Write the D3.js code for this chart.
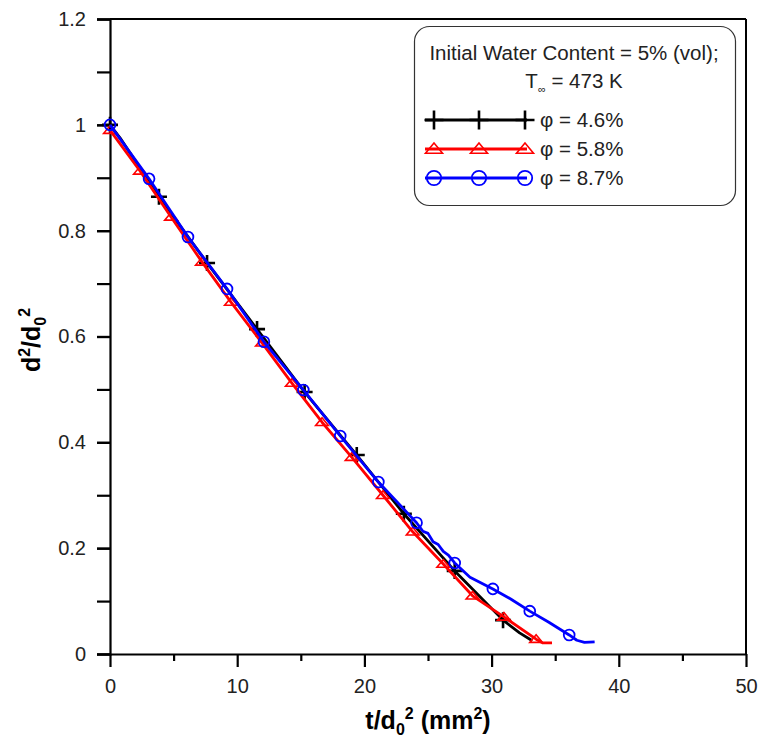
<!DOCTYPE html>
<html><head><meta charset="utf-8">
<script src="https://cdn.jsdelivr.net/npm/d3@7"></script>
<style>body{margin:0;background:#fff}svg{display:block}text{font-family:"Liberation Sans",Arial,sans-serif}</style>
</head><body><svg id="c" width="761" height="745"></svg>
<script>
// ---- data ----
const xTicks = [0, 10, 20, 30, 40, 50];
const yTickLabels = ["0", "0.2", "0.4", "0.6", "0.8", "1", "1.2"];
const yTicks = [0, 0.2, 0.4, 0.6, 0.8, 1.0, 1.2];
const seriesNames = ["φ = 4.6%", "φ = 5.8%", "φ = 8.7%"];
const seriesColors = ["#000000", "#ff0000", "#0000ff"];

// line vertices
const blackLineX = [0, 0.8, 3.85, 7.63, 11.56, 15.3, 19.4, 23.1, 27.1, 30.9, 32.2, 33.2];
const blackLineY = [1.0, 0.975, 0.864, 0.739, 0.614, 0.495, 0.376, 0.265, 0.157, 0.064, 0.040, 0.025];
const redLineX = [0, 2.36, 4.80, 7.23, 9.51, 11.95, 14.3, 16.67, 19.0, 21.46, 23.8, 26.2, 28.5, 30.97, 33.5, 34.0, 34.75];
const redLineY = [0.99, 0.913, 0.826, 0.741, 0.665, 0.588, 0.512, 0.438, 0.372, 0.300, 0.231, 0.170, 0.110, 0.070, 0.028, 0.021, 0.021];
const blueLineX = [0, 3.07, 6.13, 9.2, 12.1, 15.2, 18.1, 21.1, 24.1, 24.6, 25.0, 25.4, 25.8, 26.2, 26.6, 27.1, 28.3, 30.1, 31.5, 33.0, 34.5, 36.1, 36.7, 37.3, 38.1];
const blueLineY = [1.0, 0.898, 0.788, 0.690, 0.590, 0.499, 0.412, 0.325, 0.248, 0.232, 0.228, 0.212, 0.207, 0.194, 0.187, 0.172, 0.145, 0.123, 0.104, 0.081, 0.060, 0.036, 0.026, 0.022, 0.023];

// marker points
const blackMarkX = [0, 3.85, 7.63, 11.56, 15.3, 19.4, 23.1, 27.1, 30.9];
const blackMarkY = [1.0, 0.864, 0.739, 0.614, 0.495, 0.376, 0.265, 0.157, 0.064];
const redMarkX = [0, 2.36, 4.80, 7.23, 9.51, 11.95, 14.3, 16.67, 19.0, 21.46, 23.8, 26.2, 28.5, 30.97, 33.5];
const redMarkY = [0.99, 0.913, 0.826, 0.741, 0.665, 0.588, 0.512, 0.438, 0.372, 0.300, 0.231, 0.170, 0.110, 0.070, 0.028];
const blueMarkX = [0, 3.07, 6.13, 9.2, 12.1, 15.2, 18.1, 21.1, 24.1, 27.1, 30.1, 33.0, 36.1];
const blueMarkY = [1.0, 0.898, 0.788, 0.690, 0.590, 0.499, 0.412, 0.325, 0.248, 0.172, 0.123, 0.081, 0.036];

// ---- drawing ----
const svg = d3.select("#c");
const L = 110, R = 746, T = 19, B = 654;
const x = d3.scaleLinear().domain([0, 50]).range([L, R]);
const y = d3.scaleLinear().domain([0, 1.2]).range([B, T]);

// frame top/right
svg.append("line").attr("x1", L).attr("x2", R).attr("y1", T).attr("y2", T).attr("stroke", "#000").attr("stroke-width", 2);
svg.append("line").attr("x1", R).attr("x2", R).attr("y1", T).attr("y2", B).attr("stroke", "#000").attr("stroke-width", 2);

// x axis
const xAx = svg.append("g").attr("transform", `translate(0,${B})`);
xAx.call(d3.axisBottom(x).tickValues(d3.range(0, 51, 5)).tickSize(0).tickFormat(""));
xAx.select(".domain").attr("stroke-width", 2.2);
const xMinor = svg.append("g").attr("transform", `translate(0,${B})`)
  .call(d3.axisBottom(x).tickValues(d3.range(5, 50, 10)).tickSize(7).tickFormat(""));
xMinor.select(".domain").remove();
xMinor.selectAll("line").attr("stroke-width", 2.2);
const xMajor = svg.append("g").attr("transform", `translate(0,${B})`)
  .call(d3.axisBottom(x).tickValues(xTicks).tickSize(13).tickPadding(12).tickFormat(d3.format("d")));
xMajor.select(".domain").remove();
xMajor.selectAll("line").attr("stroke-width", 2.2);
xMajor.selectAll("text").attr("font-size", 20).attr("fill", "#222");

// y axis
const yAx = svg.append("g").attr("transform", `translate(${L},0)`)
  .call(d3.axisLeft(y).tickValues(d3.range(0, 1.21, 0.1).map(v => +v.toFixed(2))).tickSize(13).tickFormat(""));
yAx.select(".domain").attr("stroke-width", 2.2);
yAx.selectAll("line").attr("stroke-width", 2.2);
const yLab = svg.append("g").attr("transform", `translate(${L},0)`)
  .call(d3.axisLeft(y).tickValues(yTicks).tickSize(13).tickPadding(11).tickFormat((d, i) => yTickLabels[i]));
yLab.select(".domain").remove();
yLab.selectAll("line").attr("stroke-width", 2.2);
yLab.selectAll("text").attr("font-size", 20).attr("fill", "#222");

// axis titles
const xt = svg.append("text").attr("x", 428).attr("y", 729).attr("text-anchor", "middle")
  .attr("font-size", 25).attr("font-weight", "bold");
xt.append("tspan").text("t/d");
xt.append("tspan").attr("font-size", 16).attr("dy", 6).text("0");
xt.append("tspan").attr("font-size", 16).attr("dy", -16).text("2");
xt.append("tspan").attr("dy", 10).text(" (mm");
xt.append("tspan").attr("font-size", 16).attr("dy", -10).text("2");
xt.append("tspan").attr("dy", 10).text(")");

const yt = svg.append("text").attr("transform", "translate(40,340) rotate(-90)").attr("text-anchor", "middle")
  .attr("font-size", 25).attr("font-weight", "bold");
yt.append("tspan").text("d");
yt.append("tspan").attr("font-size", 16).attr("dy", -10).text("2");
yt.append("tspan").attr("dy", 10).text("/d");
yt.append("tspan").attr("font-size", 16).attr("dy", 6).text("0");
yt.append("tspan").attr("font-size", 16).attr("dy", -16).text("2");

// markers
function drawMarker(g, kind, cx, cy, color, s) {
  if (kind === 0) {
    g.append("path").attr("d", `M${cx - s},${cy}H${cx + s}M${cx},${cy - s}V${cy + s}`)
      .attr("stroke", color).attr("stroke-width", 2.6).attr("fill", "none");
  } else if (kind === 1) {
    const h = s * 0.95;
    g.append("path").attr("d", `M${cx},${cy - h * 0.62}L${cx + s * 0.85},${cy + h * 0.45}L${cx - s * 0.85},${cy + h * 0.45}Z`)
      .attr("stroke", color).attr("stroke-width", 1.6).attr("fill", "none");
  } else {
    g.append("circle").attr("cx", cx).attr("cy", cy).attr("r", s * 0.72)
      .attr("stroke", color).attr("stroke-width", 1.8).attr("fill", "none");
  }
}

const lines = [[blackLineX, blackLineY], [redLineX, redLineY], [blueLineX, blueLineY]];
const marks = [[blackMarkX, blackMarkY], [redMarkX, redMarkY], [blueMarkX, blueMarkY]];
const lineGen = d3.line().x(d => x(d[0])).y(d => y(d[1])).curve(d3.curveLinear);
const plot = svg.append("g");
lines.forEach((ln, i) => {
  const pts = ln[0].map((v, k) => [v, ln[1][k]]);
  plot.append("path").attr("d", lineGen(pts)).attr("fill", "none")
    .attr("stroke", seriesColors[i]).attr("stroke-width", 2.8).attr("stroke-linejoin", "round");
  const mg = plot.append("g");
  marks[i][0].forEach((v, k) => drawMarker(mg, i, x(v), y(marks[i][1][k]), seriesColors[i], i === 0 ? 8 : 7.5));
});

// legend
const lg = svg.append("g");
lg.append("rect").attr("x", 414.5).attr("y", 26.5).attr("width", 321).attr("height", 179)
  .attr("rx", 15).attr("fill", "#fff").attr("stroke", "#333").attr("stroke-width", 1.2);
lg.append("text").attr("x", 574).attr("y", 60).attr("text-anchor", "middle").attr("font-size", 20.5)
  .attr("fill", "#222").text("Initial Water Content = 5% (vol);");
const t2 = lg.append("text").attr("x", 574).attr("y", 88).attr("text-anchor", "middle").attr("font-size", 20.5).attr("fill", "#222");
t2.append("tspan").text("T");
t2.append("tspan").attr("font-size", 11).attr("dy", 5).text("∞");
t2.append("tspan").attr("dy", -5).text(" = 473 K");
const rowsY = [120, 149, 178];
seriesNames.forEach((nm, i) => {
  const yy = rowsY[i];
  lg.append("line").attr("x1", 425).attr("x2", 527).attr("y1", yy).attr("y2", yy)
    .attr("stroke", seriesColors[i]).attr("stroke-width", 3);
  [434, 479, 525].forEach(mx => drawMarker(lg, i, mx, yy, seriesColors[i], i === 0 ? 9.5 : 10));
  lg.append("text").attr("x", 540).attr("y", yy + 7).attr("font-size", 20.5).attr("fill", "#222").text(nm);
});
</script></body></html>
